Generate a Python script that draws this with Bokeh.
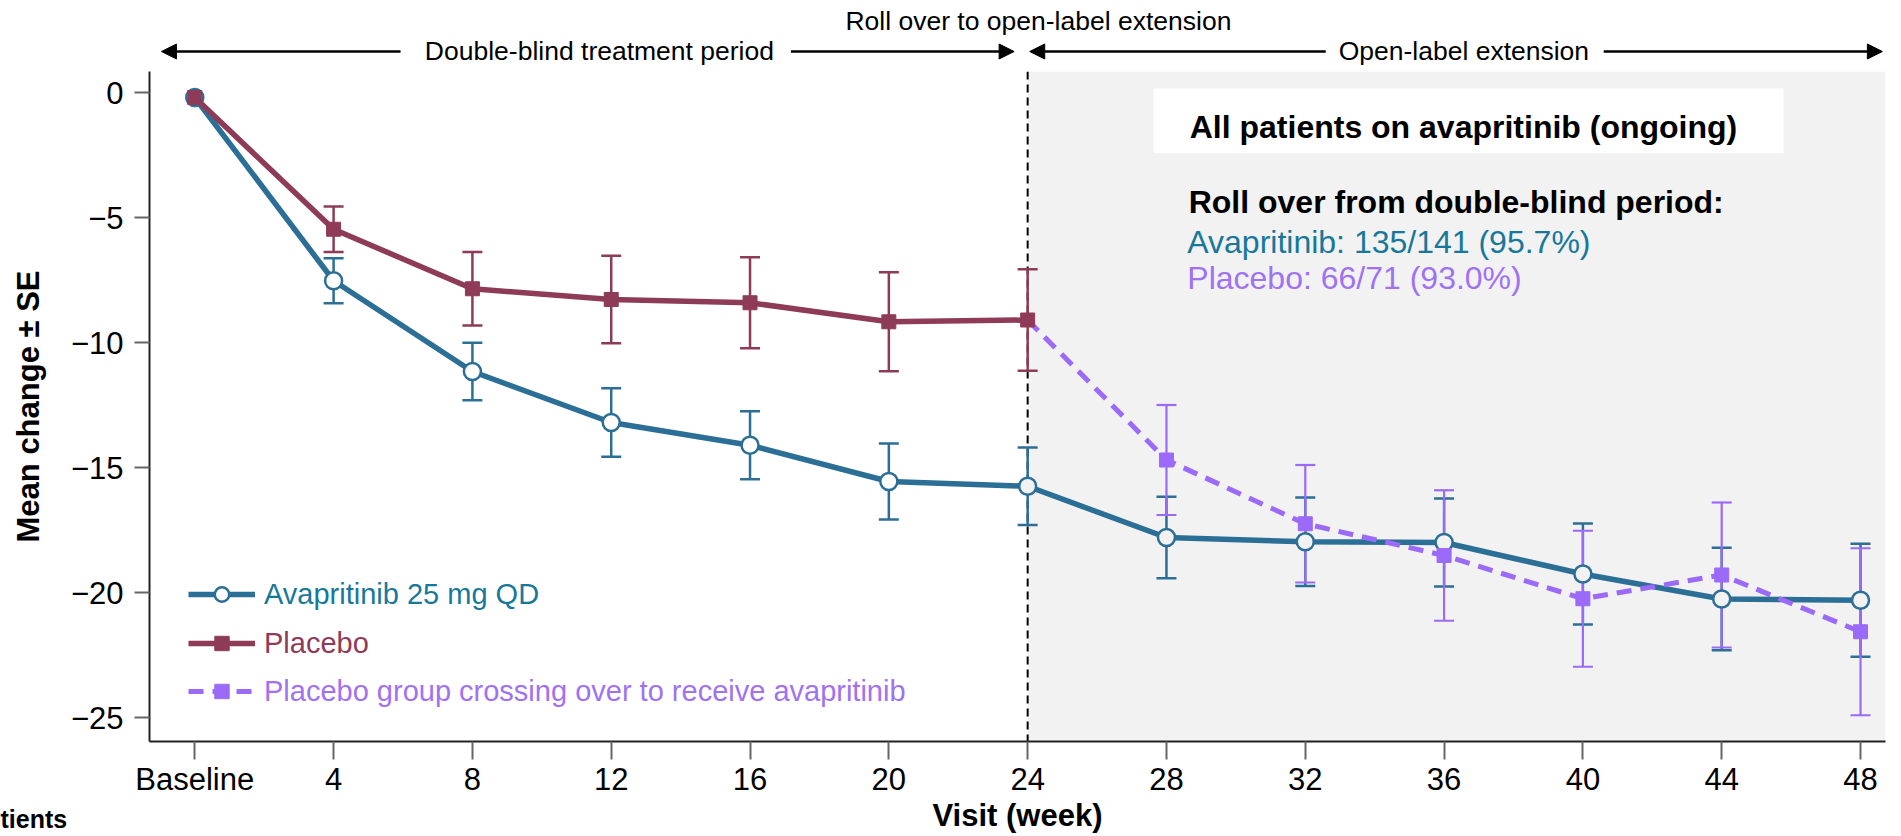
from bokeh.plotting import figure
from bokeh.models import (Range1d, FixedTicker, Whisker, TeeHead, ColumnDataSource, Title,
                          BoxAnnotation, Span, Label, Arrow, NormalHead, Legend, LegendItem)
from bokeh.layouts import column
from bokeh.embed import file_html
from bokeh.resources import INLINE

# ---------------- data ----------------
weeks = [0, 4, 8, 12, 16, 20, 24, 28, 32, 36, 40, 44, 48]
x_tick_labels = ["Baseline", "4", "8", "12", "16", "20", "24", "28", "32", "36", "40", "44", "48"]
y_ticks = [0, -5, -10, -15, -20, -25]
y_tick_labels = ["0", "\u22125", "\u221210", "\u221215", "\u221220", "\u221225"]

avap_mean = [-0.2, -7.53, -11.16, -13.2, -14.11, -15.56, -15.75, -17.8, -17.97, -18.0, -19.26, -20.26, -20.31]
avap_se = [0.0, 0.9, 1.15, 1.37, 1.36, 1.52, 1.55, 1.63, 1.77, 1.76, 2.02, 2.05, 2.26]

placebo_weeks = [0, 4, 8, 12, 16, 20, 24]
placebo_mean = [-0.2, -5.47, -7.85, -8.28, -8.41, -9.17, -9.1]
placebo_se = [0.0, 0.91, 1.47, 1.75, 1.82, 1.98, 2.03]

cross_weeks = [24, 28, 32, 36, 40, 44, 48]
cross_mean = [-9.1, -14.7, -17.25, -18.52, -20.25, -19.3, -21.57]
cross_se = [0.0, 2.2, 2.35, 2.61, 2.72, 2.9, 3.34]

series_names = ["Avapritinib 25 mg QD", "Placebo", "Placebo group crossing over to receive avapritinib"]

# ---------------- style ----------------
FONT = "Liberation Sans"
AVAP = "#2b6e96"
AVAP_TXT = "#17789a"
PLAC = "#8e3b58"
PURP = "#9b6af8"
PURP_TXT = "#a072f2"
GRAY_BG = "#f2f2f2"

x_range = Range1d(-1.305, 48.72)

# ---------------- header figure ----------------
h = figure(width=1893, height=71, x_range=x_range, y_range=Range1d(0, 71),
           output_backend="svg", toolbar_location=None,
           x_axis_location=None, y_axis_location=None,
           min_border_left=149, min_border_right=8, min_border_top=0, min_border_bottom=0)
h.grid.visible = False
h.outline_line_color = None

def arrow(x0, x1, y):
    h.add_layout(Arrow(x_start=x0, y_start=y, x_end=x1, y_end=y, line_width=2.5, line_color="black",
                       end=NormalHead(size=15, fill_color="black", line_color="black", line_width=1)))

arrow(5.93, -0.96, 20)
arrow(17.18, 23.61, 20)
arrow(32.59, 24.06, 20)
arrow(40.6, 48.63, 20)

for txt, xx, yy in [("Double-blind treatment period", 11.66, 20.5),
                    ("Open-label extension", 36.57, 20.5),
                    ("Roll over to open-label extension", 24.31, 50.4)]:
    h.add_layout(Label(x=xx, y=yy, text=txt, text_align="center", text_baseline="middle",
                       text_font=FONT, text_font_size="26.5px", text_color="black"))

# ---------------- main figure ----------------
p = figure(width=1893, height=764, x_range=x_range, y_range=Range1d(-25.96, 0.84),
           output_backend="svg", toolbar_location=None,
           min_border_left=149, min_border_right=8, min_border_top=0, min_border_bottom=94)
p.grid.visible = False
p.outline_line_color = None

# background regions
p.add_layout(BoxAnnotation(left=24, fill_color=GRAY_BG, fill_alpha=1, line_color=None, level="underlay"))
p.add_layout(Span(location=24, dimension="height", line_color="black", line_width=2,
                  line_dash="8 5", level="underlay"))
p.add_layout(BoxAnnotation(left=27.63, right=45.78, top=0.16, bottom=-2.43,
                           fill_color="white", fill_alpha=1, line_color=None, level="underlay"))

# axes
xa = p.xaxis[0]
xa.ticker = FixedTicker(ticks=weeks)
xa.major_label_overrides = {w: l for w, l in zip(weeks, x_tick_labels)}
xa.axis_label = "Visit (week)"
ya = p.yaxis[0]
ya.ticker = FixedTicker(ticks=y_ticks)
ya.major_label_overrides = {t: l for t, l in zip(y_ticks, y_tick_labels)}
ya.axis_label = "Mean change \u00b1 SE"
for ax in (xa, ya):
    ax.axis_line_color = "#222222"
    ax.axis_line_width = 2
    ax.major_tick_line_color = "#666666"
    ax.major_tick_line_width = 2
    ax.major_tick_in = 0
    ax.minor_tick_line_color = None
    ax.major_label_text_font = FONT
    ax.major_label_text_font_size = "31px"
    ax.major_label_text_color = "black"
    ax.axis_label_text_font = FONT
    ax.axis_label_text_font_size = "31px"
    ax.axis_label_text_font_style = "bold"
    ax.axis_label_text_color = "black"
xa.major_tick_out = 18
xa.major_label_standoff = 2
xa.axis_label_standoff = -2
ya.major_tick_out = 15
ya.major_label_standoff = 11
ya.axis_label_standoff = 22

# error bars
def whiskers(xs, ms, ses, color, lw):
    xx = [x for x, s in zip(xs, ses) if s > 0]
    up = [m + s for m, s in zip(ms, ses) if s > 0]
    lo = [m - s for m, s in zip(ms, ses) if s > 0]
    src = ColumnDataSource(dict(x=xx, upper=up, lower=lo))
    w = Whisker(base="x", upper="upper", lower="lower", source=src, dimension="height",
                line_color=color, line_width=lw,
                upper_head=TeeHead(size=20, line_color=color, line_width=lw),
                lower_head=TeeHead(size=20, line_color=color, line_width=lw))
    p.add_layout(w)

# avapritinib
avap_fill = ["white" if w < 24 else GRAY_BG for w in weeks]
avap_src = ColumnDataSource(dict(x=weeks, y=avap_mean, fill=avap_fill))
avap_line = p.line("x", "y", source=avap_src, line_width=5.5, line_color=AVAP)
avap_pts = p.scatter("x", "y", source=avap_src, marker="circle", size=17, line_width=2.5,
                     line_color=AVAP, fill_color="fill")

# crossover
cross_line = p.line(cross_weeks, cross_mean, line_width=5, line_color=PURP, line_dash="15 9")
cross_pts = p.scatter(cross_weeks[1:], cross_mean[1:], marker="square", size=14,
                      fill_color=PURP, line_color=PURP)

# placebo
plac_line = p.line(placebo_weeks, placebo_mean, line_width=5.5, line_color=PLAC)
plac_pts = p.scatter(placebo_weeks, placebo_mean, marker="square", size=14,
                     fill_color=PLAC, line_color=PLAC)

whiskers(weeks, avap_mean, avap_se, AVAP, 2.5)
whiskers(placebo_weeks, placebo_mean, placebo_se, PLAC, 2.5)
whiskers(cross_weeks, cross_mean, cross_se, PURP, 2.2)

# legends (one per item, so each label has its own colour)
for name, rends, col, ypos in [(series_names[0], [avap_line, avap_pts], AVAP_TXT, 129),
                               (series_names[1], [plac_line, plac_pts], PLAC, 80),
                               (series_names[2], [cross_line, cross_pts], PURP_TXT, 32)]:
    lg = Legend(items=[LegendItem(label=name, renderers=rends)], location=(39, ypos),
                glyph_width=67, glyph_height=36, label_height=36, label_standoff=9,
                padding=0, margin=0, border_line_color=None, background_fill_alpha=0,
                label_text_font=FONT, label_text_font_size="29px", label_text_color=col)
    p.add_layout(lg)

# text in the open-label region
p.add_layout(Label(x=28.67, y=-1.36, text="All patients on avapritinib (ongoing)",
                   text_font=FONT, text_font_size="32px", text_font_style="bold",
                   text_color="black", text_baseline="middle"))
p.add_layout(Label(x=28.64, y=-4.38, text="Roll over from double-blind period:",
                   text_font=FONT, text_font_size="32px", text_font_style="bold",
                   text_color="black", text_baseline="middle"))
p.add_layout(Label(x=28.6, y=-5.96, text="Avapritinib: 135/141 (95.7%)",
                   text_font=FONT, text_font_size="32px", text_color=AVAP_TXT,
                   text_baseline="middle"))
p.add_layout(Label(x=28.6, y=-7.4, text="Placebo: 66/71 (93.0%)",
                   text_font=FONT, text_font_size="32px", text_color=PURP_TXT,
                   text_baseline="middle"))

# cropped label of a neighbouring panel at the bottom-left corner
p.add_layout(Title(text="tients", align="left", vertical_align="top", offset=-149, standoff=-62,
                   text_font=FONT, text_font_size="25px", text_font_style="bold",
                   text_color="black"), "below")

layout = column(h, p)
open("out.html", "w").write(file_html(layout, INLINE))
